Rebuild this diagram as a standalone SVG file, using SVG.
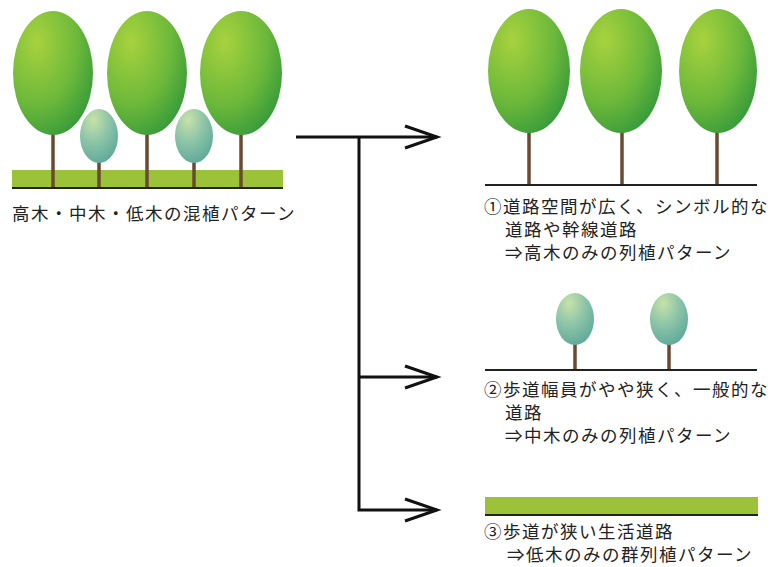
<svg xmlns="http://www.w3.org/2000/svg" width="772" height="567" viewBox="0 0 772 567">
  <style>
    .lbl { font-family: "Noto Sans CJK JP", "Noto Sans", sans-serif; font-size: 17.5px; letter-spacing: 1.5px; fill: #222; }
    .trunk { stroke: #6b4a32; stroke-width: 3.5; }
    .ground { stroke: #222; stroke-width: 2; }
    .band { fill: #9cc23a; }
    .tall { fill: url(#gTall); }
    .mid { fill: url(#gMid); }
    .conn { fill: none; stroke: #111; stroke-width: 3; }
  </style>
  <defs>
    <radialGradient id="gTall" cx="0.3" cy="0.25" r="0.85">
      <stop offset="0" stop-color="#a8d23e"/>
      <stop offset="0.6" stop-color="#6cb83a"/>
      <stop offset="1" stop-color="#33993a"/>
    </radialGradient>
    <radialGradient id="gMid" cx="0.35" cy="0.2" r="0.85">
      <stop offset="0" stop-color="#c8e2a8"/>
      <stop offset="0.5" stop-color="#8cc4a8"/>
      <stop offset="1" stop-color="#5ea89a"/>
    </radialGradient>
  </defs>

  <!-- mixed planting: tall, medium and low trees -->
  <g id="mixed">
    <rect class="band" x="12" y="170" width="271" height="17"/>
    <line class="trunk" x1="53" y1="125" x2="53" y2="188"/>
    <line class="trunk" x1="147" y1="125" x2="147" y2="188"/>
    <line class="trunk" x1="241" y1="125" x2="241" y2="188"/>
    <line class="trunk" x1="99" y1="155" x2="99" y2="188"/>
    <line class="trunk" x1="194" y1="155" x2="194" y2="188"/>
    <ellipse class="tall" cx="53" cy="73" rx="40" ry="62"/>
    <ellipse class="tall" cx="147" cy="73" rx="40" ry="62"/>
    <ellipse class="tall" cx="241" cy="73" rx="41" ry="62"/>
    <ellipse class="mid" cx="99" cy="136" rx="19" ry="27"/>
    <ellipse class="mid" cx="194" cy="136" rx="19" ry="27"/>
    <line class="ground" x1="12" y1="188" x2="283" y2="188"/>
    <text class="lbl" x="12" y="220">高木・中木・低木の混植パターン</text>
  </g>

  <!-- pattern 1: tall trees only -->
  <g id="tall-only">
    <line class="trunk" x1="529" y1="125" x2="529" y2="185"/>
    <line class="trunk" x1="622" y1="125" x2="622" y2="185"/>
    <line class="trunk" x1="717" y1="125" x2="717" y2="185"/>
    <ellipse class="tall" cx="529" cy="71" rx="41" ry="62"/>
    <ellipse class="tall" cx="621" cy="71" rx="41" ry="62"/>
    <ellipse class="tall" cx="718" cy="71" rx="39" ry="62"/>
    <line class="ground" x1="485" y1="185" x2="757" y2="185"/>
    <text class="lbl" x="484" y="213">①道路空間が広く、シンボル的な</text>
    <text class="lbl" x="505" y="236">道路や幹線道路</text>
    <text class="lbl" x="505" y="259">⇒高木のみの列植パターン</text>
  </g>

  <!-- pattern 2: medium trees only -->
  <g id="mid-only">
    <line class="trunk" x1="575" y1="340" x2="575" y2="370"/>
    <line class="trunk" x1="669" y1="340" x2="669" y2="370"/>
    <ellipse class="mid" cx="575" cy="319" rx="19" ry="26"/>
    <ellipse class="mid" cx="669" cy="319" rx="19" ry="26"/>
    <line class="ground" x1="485" y1="370" x2="757" y2="370"/>
    <text class="lbl" x="484" y="396">②歩道幅員がやや狭く、一般的な</text>
    <text class="lbl" x="505" y="419">道路</text>
    <text class="lbl" x="505" y="442">⇒中木のみの列植パターン</text>
  </g>

  <!-- pattern 3: low shrubs only -->
  <g id="low-only">
    <rect class="band" x="485" y="497" width="273" height="17"/>
    <line class="ground" x1="485" y1="515" x2="758" y2="515"/>
    <text class="lbl" x="484" y="538">③歩道が狭い生活道路</text>
    <text class="lbl" x="507" y="561">⇒低木のみの群列植パターン</text>
  </g>

  <!-- branching arrows -->
  <g id="connectors">
    <path class="conn" d="M296,137 H437"/>
    <path class="conn" d="M405,126 L437,137 L405,148"/>
    <path class="conn" d="M359,137 V510 H437"/>
    <path class="conn" d="M359,377 H437"/>
    <path class="conn" d="M405,366 L437,377 L405,388"/>
    <path class="conn" d="M405,499 L437,510 L405,521"/>
  </g>
</svg>
